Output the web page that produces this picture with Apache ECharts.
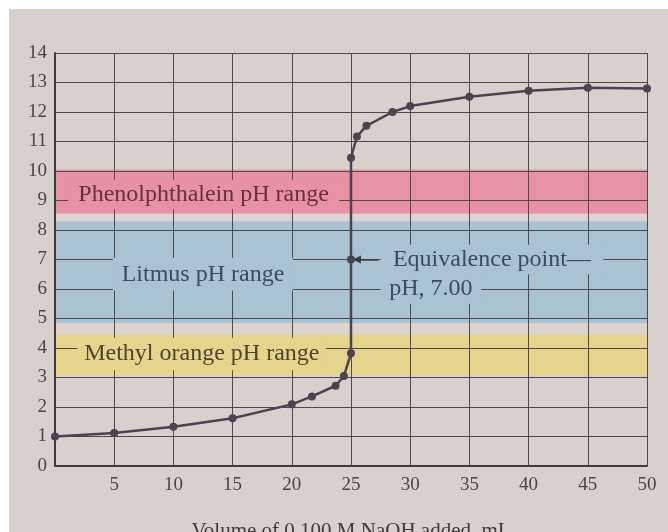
<!DOCTYPE html>
<html>
<head>
<meta charset="utf-8">
<script src="https://cdn.jsdelivr.net/npm/echarts@6/dist/echarts.min.js"></script>
<style>
html,body{margin:0;padding:0;background:#ffffff;}
#chart{width:668px;height:532px;}
</style>
</head>
<body>
<div id="chart"></div>
<script>
// Titration curve data
const volume = [0, 5, 10, 15, 20, 21.7, 23.7, 24.4, 25, 25, 25, 25.5, 26.3, 28.5, 30, 35, 40, 45, 50];
const pH     = [1.0, 1.12, 1.33, 1.62, 2.09, 2.36, 2.72, 3.05, 3.82, 7.0, 10.45, 11.17, 11.53, 12.0, 12.2, 12.52, 12.72, 12.82, 12.8];

// Indicator colour bands [low, high]
const bandNames  = ['Phenolphthalein', 'gap1', 'Litmus', 'gap2', 'Methyl orange'];
const bandLow    = [8.55, 8.3, 4.85, 4.45, 3.08];
const bandHigh   = [10.05, 8.55, 8.3, 4.85, 4.45];
const bandColors = ['#e791a5', '#e0d2d2', '#a9c3d2', '#ded4cc', '#e5d48c'];

// Text labels (text, box x0, x1, y0, y1, fill, text colour)
const labelTexts  = ['Phenolphthalein pH range', 'Litmus pH range', 'Equivalence point\u2014', 'pH, 7.00', 'Methyl orange pH range'];
const labelX0     = [1.1, 4.9, 27.5, 27.5, 1.9];
const labelX1     = [24.0, 20.1, 46.3, 36.0, 22.9];
const labelY0     = [8.7, 5.95, 6.5, 5.5, 3.25];
const labelY1     = [9.7, 7.05, 7.5, 6.5, 4.35];
const labelFill   = ['#e791a5', '#a9c3d2', '#a9c3d2', '#a9c3d2', '#e5d48c'];
const labelColor  = ['#6a2e3c', '#3b4b5c', '#3b4b5c', '#3b4b5c', '#4c4430'];

const xMin = 0, xMax = 50, xStep = 5;
const yMin = 0, yMax = 14, yStep = 1;
const xTitle = 'Volume of 0.100 M NaOH added, mL';
const equivalence = [25, 7.0];

const chart = echarts.init(document.getElementById('chart'), null, {renderer: 'canvas'});
const serif = '"Liberation Serif", "DejaVu Serif", serif';
const gridColor = '#4e4a4c';

const option = {
  backgroundColor: '#d7d0cd',
  animation: false,
  graphic: [
    {type: 'rect', shape: {x: 0, y: 0, width: 668, height: 9}, style: {fill: '#ffffff'}, z: 100},
    {type: 'rect', shape: {x: 0, y: 0, width: 9, height: 532}, style: {fill: '#ffffff'}, z: 100}
  ],
  grid: {left: 55, right: 21, top: 53, bottom: 66, containLabel: false, outerBoundsMode: 'none'},
  xAxis: {
    type: 'value', min: xMin, max: xMax, interval: xStep, z: 3,
    name: xTitle, nameLocation: 'middle', nameGap: 55,
    nameTextStyle: {fontFamily: serif, fontSize: 21, color: '#3f3a3a'},
    axisLine: {show: true, lineStyle: {color: '#3f3b3d', width: 2}},
    axisTick: {show: false},
    axisLabel: {fontFamily: serif, fontSize: 19, color: '#4a4545', margin: 10,
      formatter: v => v === 0 ? '' : String(v)},
    splitLine: {show: true, lineStyle: {color: gridColor, width: 1}}
  },
  yAxis: {
    type: 'value', min: yMin, max: yMax, interval: yStep, z: 3,
    axisLine: {show: true, lineStyle: {color: '#3f3b3d', width: 2}},
    axisTick: {show: false},
    axisLabel: {fontFamily: serif, fontSize: 19, color: '#4a4545', margin: 8},
    splitLine: {show: true, lineStyle: {color: gridColor, width: 1}}
  },
  series: [
    {
      type: 'line', data: [], z: 1, silent: true,
      markArea: {
        silent: true, z: 1,
        data: bandNames.map((n, i) => [
          {name: n, yAxis: bandLow[i], xAxis: xMin, itemStyle: {color: bandColors[i], opacity: 1}, label: {show: false}},
          {yAxis: bandHigh[i], xAxis: xMax}
        ])
      }
    },
    {
      type: 'line', data: [], z: 4, silent: true,
      markArea: {
        silent: true, z: 4,
        data: labelTexts.map((t, i) => [
          {name: t, xAxis: labelX0[i], yAxis: labelY0[i],
           itemStyle: {color: labelFill[i], opacity: 1},
           label: {show: true, position: 'inside', formatter: t,
                   fontFamily: serif, fontSize: 24, color: labelColor[i]}},
          {xAxis: labelX1[i], yAxis: labelY1[i]}
        ])
      }
    },
    {
      type: 'line', z: 6, silent: true,
      data: volume.map((v, i) => [v, pH[i]]),
      symbol: 'circle', symbolSize: 8, showAllSymbol: true,
      lineStyle: {color: '#4a4350', width: 2.5},
      itemStyle: {color: '#4a4350'},
      markLine: {
        silent: true, z: 7, symbol: ['none', 'triangle'], symbolSize: [8, 8],
        lineStyle: {color: '#3b3b44', width: 1.5, type: 'solid'},
        label: {show: false},
        data: [[{coord: [equivalence[0] + 2.3, equivalence[1]]}, {coord: [equivalence[0] + 0.5, equivalence[1]]}]]
      }
    }
  ]
};
chart.setOption(option);
</script>
</body>
</html>
